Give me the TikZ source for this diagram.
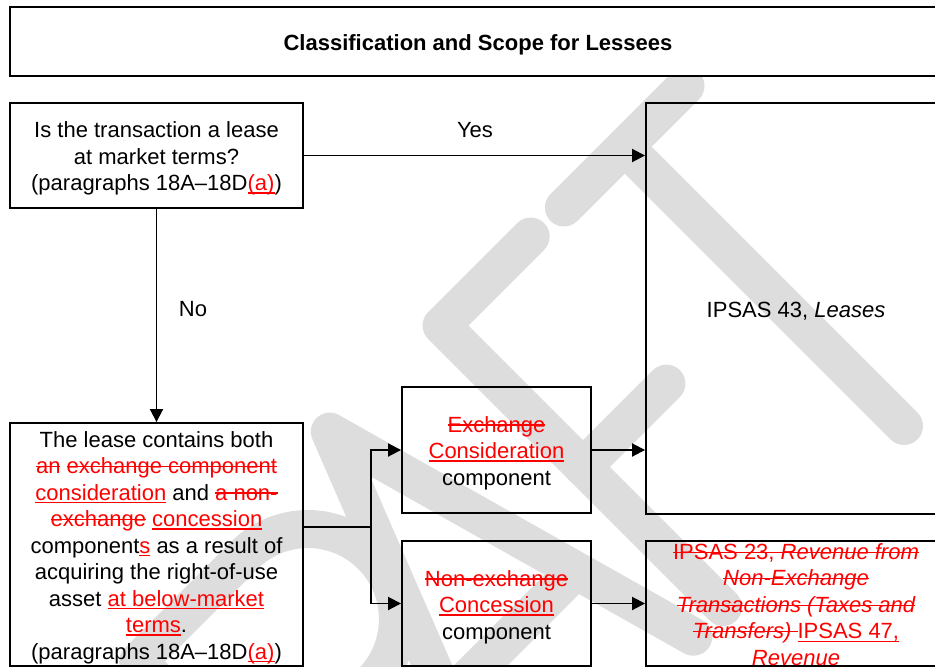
\documentclass[tikz,border=0pt]{standalone}
\usepackage{fontspec}
\setmainfont{Liberation Sans}
\usetikzlibrary{arrows.meta}
\definecolor{wmgray}{RGB}{221,221,221}
\newcommand{\myins}[1]{{\color{red}\setbox0=\hbox{#1}\rlap{\rule[-3pt]{\wd0}{1.3pt}}\box0}}
\newcommand{\mydel}[1]{{\color{red}\setbox0=\hbox{#1}\rlap{\rule[6.5pt]{\wd0}{1.3pt}}\box0}}
\tikzset{
  box/.style={draw=black, line width=1.9pt, inner sep=0pt},
  txt/.style={align=center, inner sep=0pt, font=\fontsize{22}{26.5}\selectfont},
  conn/.style={line width=1.9pt},
  arr/.style={line width=1.9pt, -{Triangle[length=13pt,width=13pt]}},
  wm/.style={draw=wmgray, line width=38pt, line cap=round, line join=round}
}
\begin{document}
\begin{tikzpicture}[x=1pt,y=-1pt]
\useasboundingbox (0,0) rectangle (935,667);
% watermark
\begin{scope}
  \clip (0,77) rectangle (935,667);
  \begin{scope}[shift={(665,665)}, rotate=45]
    % R
    \draw[wm] (-370pt,0pt) -- (-370pt,375pt) -- (-220pt,375pt) arc[start angle=90, end angle=-90, radius=90pt] -- (-370pt,195pt);
    \draw[wm] (-280pt,195pt) -- (-200pt,0pt);
    % A
    \draw[wm] (-230pt,0pt) -- (-72pt,402pt) -- (40pt,0pt);
    \draw[wm] (-180pt,130pt) -- (3pt,130pt);
    % F
    \draw[wm] (82pt,0pt) -- (82pt,398pt) -- (208pt,398pt);
    \draw[wm] (82pt,198pt) -- (200pt,198pt);
    % T
    \draw[wm] (252pt,395pt) -- (424pt,395pt);
    \draw[wm] (338pt,395pt) -- (338pt,0pt);
  \end{scope}
\end{scope}
% boxes
\node[box, minimum width=936pt, minimum height=69pt] (title) at (478,41.5) {};
\node[box, minimum width=293pt, minimum height=105pt] (q) at (156.5,155.5) {};
\node[box, minimum width=293pt, minimum height=243pt] (lease) at (156.5,544.5) {};
\node[box, minimum width=189pt, minimum height=126pt] (exch) at (496.5,450) {};
\node[box, minimum width=189pt, minimum height=125pt] (nonex) at (496.5,603.5) {};
\node[box, minimum width=300pt, minimum height=411pt] (ipa) at (796,308.5) {};
\node[box, minimum width=300pt, minimum height=125pt] (ipb) at (796,603.5) {};
% texts
\node[txt, font=\fontsize{22}{26.5}\selectfont\bfseries] (titletxt) at (478,45) {Classification and Scope for Lessees};
\node[txt] (qtxt) at (156.5,158.5) {Is the transaction a lease\\at market terms?\\(paragraphs 18A–18D\myins{(a)})};
\node[txt] (leasetxt) at (156.5,547.5) {The lease contains both\\
\mydel{an} \mydel{exchange component}\\
\myins{consideration} and \mydel{a non-}\\
\mydel{exchange} \myins{concession}\\
component\myins{s} as a result of\\
acquiring the right-of-use\\
asset \myins{at below-market}\\
\myins{terms}.\\
(paragraphs 18A–18D\myins{(a)})};
\node[txt] (exchtxt) at (496.5,453) {\mydel{Exchange}\\\myins{Consideration}\\component};
\node[txt] (nonextxt) at (496.5,607) {\mydel{Non-exchange}\\\myins{Concession}\\component};
\node[txt] (ipatxt) at (796,311) {IPSAS 43, \textit{Leases}};
\node[txt] (ipbtxt) at (796,606) {\mydel{IPSAS 23, {\itshape Revenue from}}\\
\mydel{{\itshape Non-Exchange}}\\
\mydel{{\itshape Transactions (Taxes and}}\\
\mydel{{\itshape Transfers)}\ }\myins{IPSAS 47,}\\
\myins{{\itshape Revenue}}};
\node[txt] (yes) at (475,130) {Yes};
\node[txt] (no) at (193,309) {No};
% connectors
\coordinate (j) at (371,527);
\draw[arr] (q.east) -- (q.east -| ipa.west);
\draw[arr] (q.south) -- (lease.north);
\draw[conn] (lease.east |- j) -- (j);
\draw[arr] (j) |- (exch.west);
\draw[arr] (j) |- (nonex.west);
\draw[arr] (exch.east) -- (exch.east -| ipa.west);
\draw[arr] (nonex.east) -- (ipb.west);
\end{tikzpicture}
\end{document}
